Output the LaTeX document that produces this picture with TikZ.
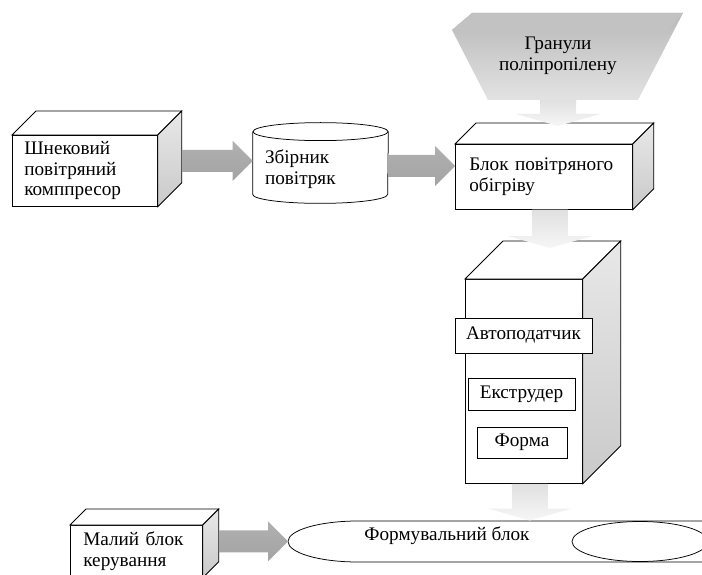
\documentclass[tikz,border=0pt]{standalone}
\usepackage{fontspec}
\setmainfont{Liberation Serif}
\usetikzlibrary{calc}

\begin{document}
\begin{tikzpicture}[x=1pt, y=-1pt, line width=0.75pt,
    txt/.style={font=\fontsize{19.2}{20.5}\selectfont, align=left},
    box/.style={txt, draw, fill=white, anchor=north west, inner ysep=0pt},
    inbox/.style={txt, draw, fill=white, inner sep=0pt, align=center},
    side/.style={draw, top color=gray!18, bottom color=gray!42},
    harr/.style={top color=gray!62, middle color=gray!36, bottom color=gray!72},
    varr/.style={top color=gray!24, bottom color=gray!7}
]
\useasboundingbox (0,0) rectangle (702,575);
\clip (0,0) rectangle (702,575);

% Блоки
\node[box, minimum width=145pt, minimum height=71pt, text width=121pt, inner xsep=12pt] (cmp) at (12,135) {Шнековий\\повітряний\\комппресор};
\node[box, minimum width=177pt, minimum height=65pt, text width=149pt, inner xsep=14pt] (bl) at (455,144) {Блок повітряного\\обігріву};
\node[box, minimum width=117pt, minimum height=204pt] (tw) at (465,279) {};
\node[box, minimum width=132pt, minimum height=52pt, text width=106pt, inner xsep=13pt] (mb) at (70,525) {Малий блок\\керування};
\foreach \n/\d in {cmp/24, bl/21, tw/38, mb/16} {
    \draw[fill=white] (\n.north west) -- ++(\d,-\d) -- ($(\n.north east)+(\d,-\d)$) -- (\n.north east) -- cycle;
    \draw[side] (\n.north east) -- ($(\n.north east)+(\d,-\d)$) -- ($(\n.south east)+(\d,-\d)$) -- (\n.south east) -- cycle;
}

% Всередині башти
\node[inbox, minimum width=137pt, minimum height=35pt] (ap) at (523.5,335.5) {Автоподатчик};
\node[inbox, minimum width=107pt, minimum height=32pt] (ex) at (521.5,394) {Екструдер};
\node[inbox, minimum width=90pt, minimum height=31pt] (fm) at (522,442.5) {Форма};

% Збірник
\node[txt, minimum width=135pt, minimum height=62pt, text width=111pt, inner xsep=12pt, inner ysep=0pt] (zb) at (320.5,169) {Збірник\\повітряк};
\draw ($(zb.north west)+(0,-6)$) -- ($(zb.south west)+(0,-6)$) arc[start angle=180, end angle=360, x radius=67.5pt, y radius=9pt] -- ($(zb.north east)+(0,-6)$);
\draw ($(zb.north)+(0,-6)$) ellipse[x radius=67.5pt, y radius=9pt];

% Бункер
\shade[top color=gray!55, bottom color=gray!22] (452,30) -- (472,13) -- (683,13) -- (638,100) -- (488,100) -- cycle;
\fill[gray!48] (452,30) -- (472,13) -- (683,13) -- (668,30) -- cycle;
\node[txt, align=center] (hop) at (558,56) {Гранули\\поліпропілену};
\coordinate (hb) at (558,100);

% Формувальний блок
\coordinate (fbl) at (288,541.5);
\draw (710,521) -- (358,521) arc[start angle=90, end angle=270, x radius=70pt, y radius=20.5pt] -- (710,562);
\draw (640,541.5) ellipse[x radius=68pt, y radius=20pt];
\node[txt] (fb) at (447,535.5) {Формувальний блок};

% Стрілки
\coordinate (h1a) at ($(cmp.east)+(24,-10)$);
\coordinate (h1b) at (h1a -| zb.west);
\coordinate (h2a) at ($(zb.east)+(0,-3)$);
\coordinate (h2b) at (h2a -| bl.west);
\coordinate (h3a) at ($(mb.east)+(16,-10)$);
\coordinate (h3b) at (h3a -| fbl);
\coordinate (v1b) at ($(bl.north -| hb)+(0,-18)$);
\coordinate (v2a) at ($(bl.south)+(6,0)$);
\coordinate (v2b) at ($(tw.north -| v2a)+(0,-31)$);
\coordinate (v3a) at ($(tw.south)+(6,0)$);
\coordinate (v3b) at ($(v3a |- fbl)+(0,-21)$);
\foreach \a/\b in {h1a/h1b, h2a/h2b, h3a/h3b}
    \shade[harr] ($(\a)+(0,-11)$) -- ($(\b)+(-20,-11)$) -- ($(\b)+(-20,-20)$) -- (\b) -- ($(\b)+(-20,20)$) -- ($(\b)+(-20,11)$) -- ($(\a)+(0,11)$) -- cycle;
\foreach \a/\b in {hb/v1b, v2a/v2b, v3a/v3b}
    \shade[varr] ($(\a)+(-18,0)$) -- ($(\b)+(-18,-12)$) -- ($(\b)+(-42,-12)$) -- (\b) -- ($(\b)+(42,-12)$) -- ($(\b)+(18,-12)$) -- ($(\a)+(18,0)$) -- cycle;
\end{tikzpicture}
\end{document}
